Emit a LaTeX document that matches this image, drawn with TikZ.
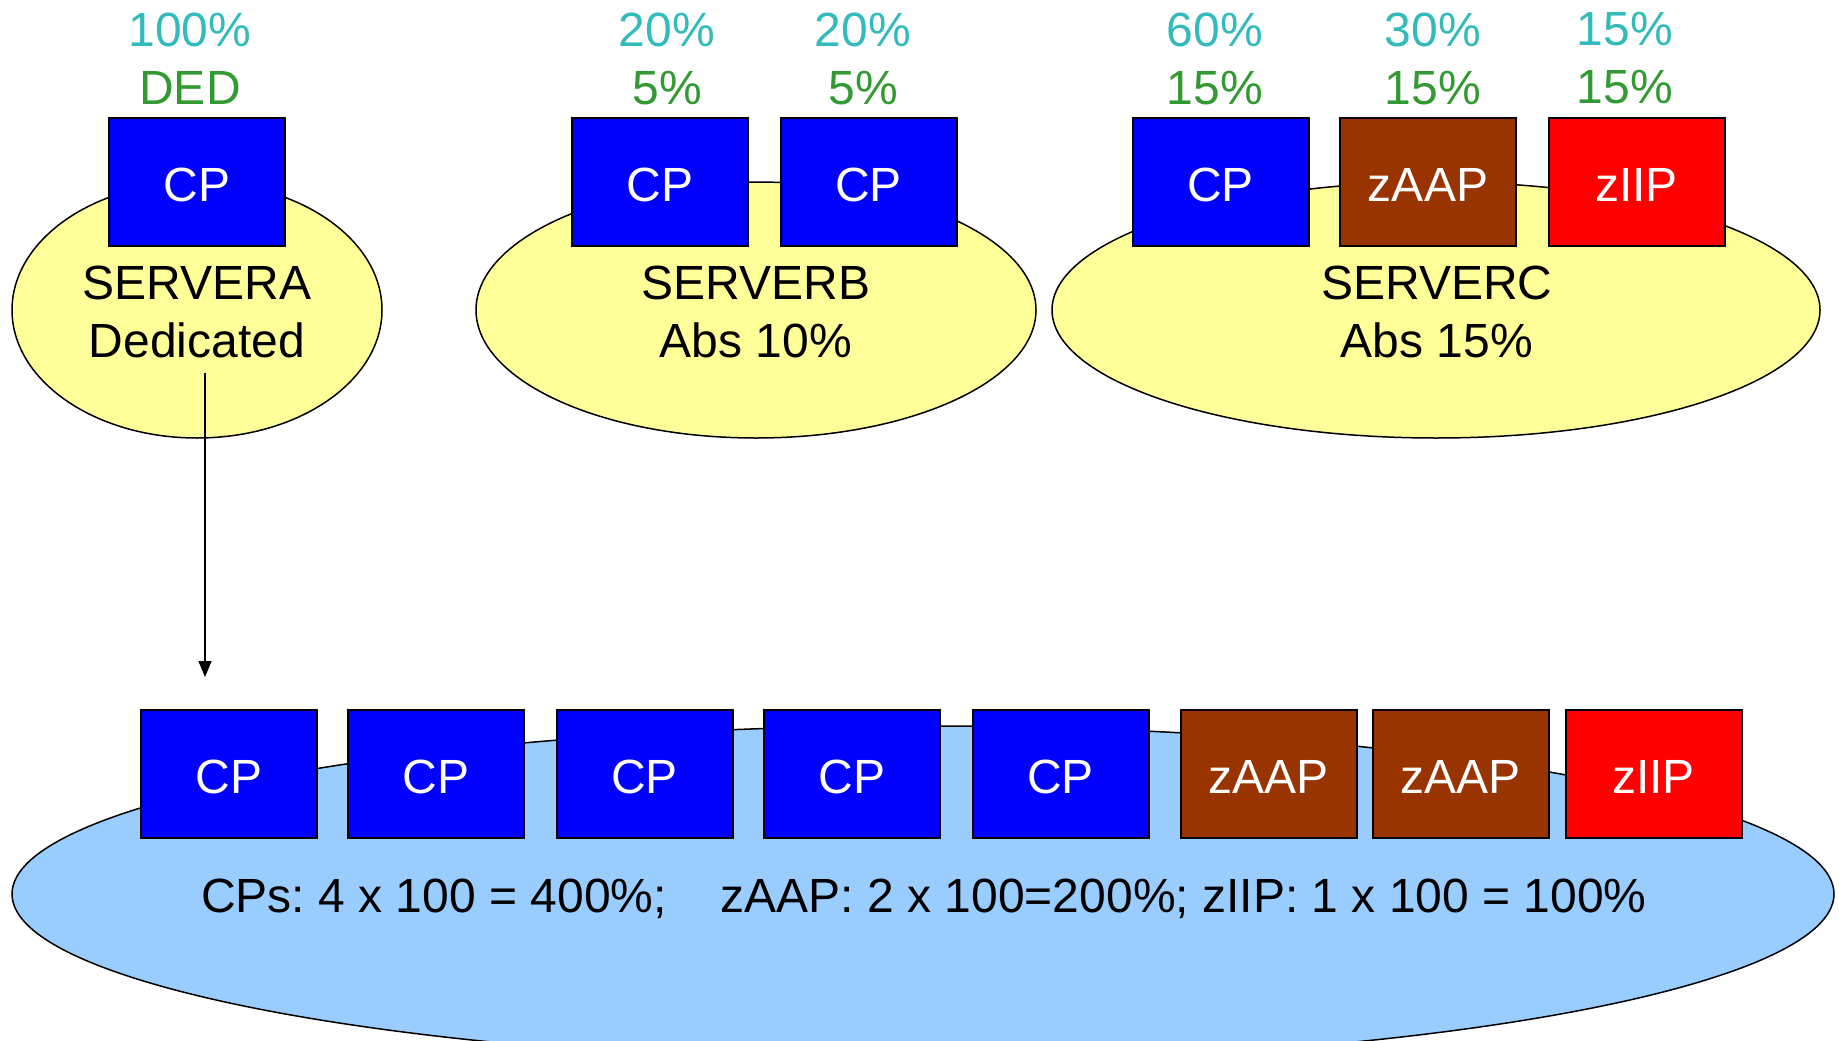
\documentclass[tikz,border=0pt]{standalone}
\usepackage{fontspec}
\setmainfont{Liberation Sans}
\usetikzlibrary{shapes.geometric,arrows.meta}
\definecolor{cpblue}{RGB}{0,0,255}
\definecolor{zaapbrown}{RGB}{153,51,0}
\definecolor{ziipred}{RGB}{255,0,0}
\definecolor{lparyellow}{RGB}{255,255,153}
\definecolor{cecblue}{RGB}{153,204,255}
\definecolor{weightteal}{RGB}{51,187,187}
\definecolor{capgreen}{RGB}{51,153,51}
\frenchspacing
\begin{document}
\begin{tikzpicture}[x=1pt,y=-1pt,
  font=\fontsize{48}{58}\selectfont,
  engine/.style={draw=black, line width=2pt, minimum width=176pt,
    minimum height=128pt, inner sep=0pt, text=white,
    text height=39pt, text depth=0pt},
  cp/.style={engine, fill=cpblue},
  zaap/.style={engine, fill=zaapbrown},
  ziip/.style={engine, fill=ziipred},
  pool/.style={ellipse, draw=black, line width=1.5pt, inner sep=0pt},
  lpar/.style={pool, fill=lparyellow, minimum height=256pt},
  weights/.style={align=center, inner sep=0pt},
  caption/.style={align=center, inner sep=0pt, text=black},
]
\clip (0,0) rectangle (1839,1041);

% the shared machine with all its engines
\node[pool, fill=cecblue, minimum width=1822pt, minimum height=336pt] (cec) at (923,894) {};
\node[caption] (cectext) at (924,899)
  {CPs: 4 x 100 = 400\%;\hspace*{54pt}zAAP: 2 x 100=200\%; zIIP: 1 x 100 = 100\%};

% logical partitions
\node[lpar, minimum width=370pt] (lpara) at (197,310) {};
\node[lpar, minimum width=560pt] (lparb) at (756,310) {};
\node[lpar, minimum width=768pt] (lparc) at (1436,310) {};
\node[caption] (texta) at (197,312) {SERVERA\\Dedicated};
\node[caption] (textb) at (756,312) {SERVERB\\Abs 10\%};
\node[caption] (textc) at (1437,312) {SERVERC\\Abs 15\%};

% logical engines of each partition
\node[cp] (a1) at (197,181.5) {CP};
\node[cp] (b1) at (660,181.5) {CP};
\node[cp] (b2) at (868.5,181.5) {CP};
\node[cp] (c1) at (1220.5,181.5) {CP};
\node[zaap] (c2) at (1428,181.5) {zAAP};
\node[ziip] (c3) at (1636.5,181.5) {zIIP};

% weights and caps
\node[weights] (wa1) at (190,58.5) {\textcolor{weightteal}{100\%}\\\textcolor{capgreen}{DED}};
\node[weights] (wb1) at (667,58.5) {\textcolor{weightteal}{20\%}\\\textcolor{capgreen}{5\%}};
\node[weights] (wb2) at (863,58.5) {\textcolor{weightteal}{20\%}\\\textcolor{capgreen}{5\%}};
\node[weights] (wc1) at (1215,58.5) {\textcolor{weightteal}{60\%}\\\textcolor{capgreen}{15\%}};
\node[weights] (wc2) at (1433,58.5) {\textcolor{weightteal}{30\%}\\\textcolor{capgreen}{15\%}};
\node[weights] (wc3) at (1625,58.5) {\textcolor{weightteal}{15\%}\\\textcolor{capgreen}{15\%}};

% physical engines
\node[cp] (p1) at (229,773.5) {CP};
\node[cp] (p2) at (436,773.5) {CP};
\node[cp] (p3) at (644.5,773.5) {CP};
\node[cp] (p4) at (852,773.5) {CP};
\node[cp] (p5) at (1060.5,773.5) {CP};
\node[zaap] (p6) at (1268.5,773.5) {zAAP};
\node[zaap] (p7) at (1460.5,773.5) {zAAP};
\node[ziip] (p8) at (1653.5,773.5) {zIIP};

% dedicated partition dispatched onto the machine
\coordinate (dropstart) at (205,373);
\coordinate (dropend) at (205,677);
\draw[line width=1.5pt, -{Triangle[length=16pt,width=13pt]}] (dropstart) -- (dropend);
\end{tikzpicture}
\end{document}
